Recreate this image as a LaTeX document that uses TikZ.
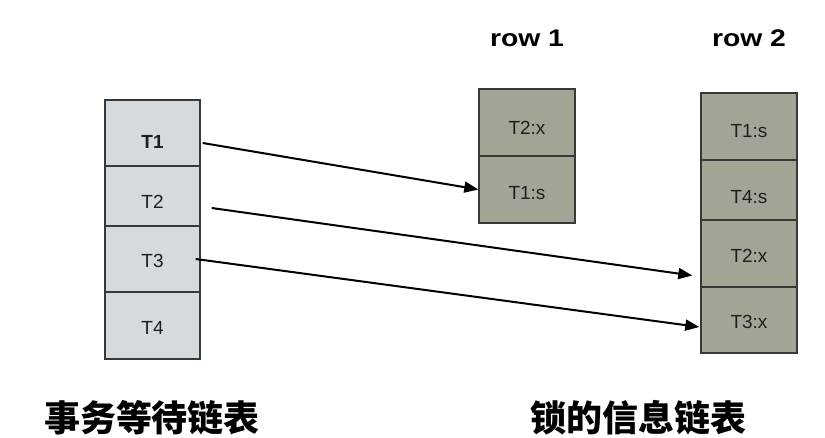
\documentclass[tikz,border=0pt]{standalone}
\usepackage{fontspec}
\setmainfont{Liberation Sans}
\newfontfamily\cjk{Noto Sans CJK SC}
\usetikzlibrary{arrows.meta}
\definecolor{leftfill}{RGB}{212,218,221}
\definecolor{rightfill}{RGB}{163,164,150}
\definecolor{edgegray}{RGB}{55,57,55}
\definecolor{txt}{RGB}{30,32,30}
\tikzset{
  cellbase/.style={draw=edgegray, line width=1.4pt, inner sep=0pt, text=txt, text depth=0pt, font=\fontsize{19}{21}\selectfont},
  cellL/.style={cellbase, fill=leftfill, minimum width=95pt},
  cellR/.style={cellbase, fill=rightfill, minimum width=96pt},
  toff/.style={text height=#1pt},
  head/.style={font=\fontsize{24}{26}\selectfont\bfseries, text=black},
  captext/.style={font=\cjk\bfseries\fontsize{36}{38}\selectfont, text=black},
  conn/.style={line width=2pt, -{Triangle[length=14pt,width=11pt]}}
}
\begin{document}
\begin{tikzpicture}[x=1pt,y=-1pt]
\useasboundingbox (0,0) rectangle (825,438);
% left list
\node[cellL, minimum height=66pt, toff=31.6] (t1) at (152.5,133) {\bfseries T1};
\node[cellL, minimum height=60pt, toff=25.6] (t2) at (152.5,196) {T2};
\node[cellL, minimum height=66pt, toff=17.6] (t3) at (152.5,259) {T3};
\node[cellL, minimum height=67pt, toff=18.6] (t4) at (152.5,325.5) {T4};
% row 1
\node[head] (h1) at (527,38) {\scalebox{1.18}[1]{row 1}};
\node[cellR, minimum height=67pt, toff=23.6] (r1a) at (527,122.5) {T2:x};
\node[cellR, minimum height=67pt, toff=19.6] (r1b) at (527,189.5) {T1:s};
% row 2
\node[head] (h2) at (749,38) {\scalebox{1.18}[1]{row 2}};
\node[cellR, minimum height=67pt, toff=21.6] (r2a) at (749,126.5) {T1:s};
\node[cellR, minimum height=60pt, toff=27.6] (r2b) at (749,190) {T4:s};
\node[cellR, minimum height=67pt, toff=17.6] (r2c) at (749,253.5) {T2:x};
\node[cellR, minimum height=66pt, toff=17.6] (r2d) at (749,320) {T3:x};
% captions
\node[captext] (c1) at (152,418) {事务等待链表};
\node[captext] (c2) at (638,418) {锁的信息链表};
% connectors
\draw[conn] ([xshift=2pt,yshift=-10pt]t1.east) -- ([yshift=0pt]r1b.west);
\draw[conn] ([xshift=11pt,yshift=-12pt]t2.east) -- ([xshift=-8pt,yshift=-22pt]r2c.west);
\draw[conn] ([xshift=-5pt,yshift=0pt]t3.east) -- ([xshift=-1pt,yshift=-7pt]r2d.west);
\end{tikzpicture}
\end{document}
